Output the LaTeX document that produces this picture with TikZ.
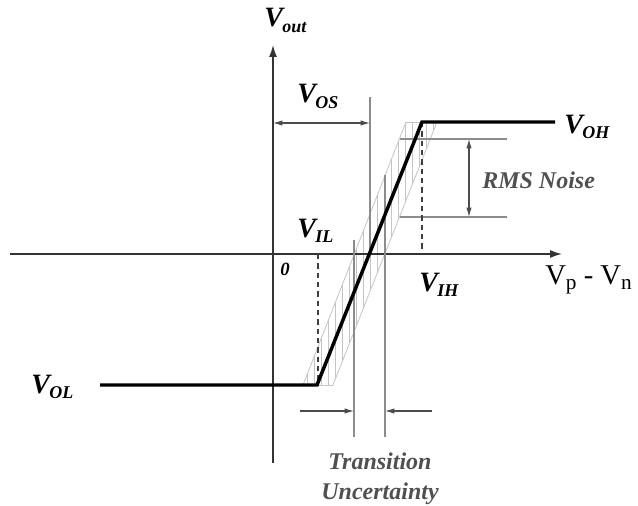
\documentclass[tikz,border=0pt]{standalone}
\usepackage{fontspec}
\setmainfont{Liberation Serif}
\usetikzlibrary{arrows.meta,positioning}
\definecolor{GuideGray}{HTML}{8C8C8C}
\definecolor{HatchGray}{HTML}{C4C4C4}
\definecolor{NoteGray}{HTML}{505050}
\newcommand{\Vsub}[1]{{\fontsize{21}{21}\selectfont\bfseries\itshape V\kern-0.5pt\raisebox{-0.45ex}{\fontsize{13.5}{13.5}\selectfont #1}}}
\tikzset{
  axis/.style={draw=black!80, line width=1.1pt, -{Latex[length=9pt,width=6pt]}},
  transfer/.style={draw=black, line width=2.6pt, line join=miter},
  guide/.style={draw=GuideGray, line width=0.8pt},
  hatch/.style={draw=HatchGray, line width=0.6pt},
  levelmark/.style={draw=black!75, line width=0.8pt, dashed, dash pattern=on 4pt off 3pt},
  dim/.style={draw=black!70, line width=0.8pt, {Latex[length=7pt,width=4pt]}-{Latex[length=7pt,width=4pt]}},
  pointer/.style={draw=black!70, line width=0.8pt, -{Latex[length=7pt,width=4pt]}},
  lbl/.style={inner sep=0pt, anchor=base west},
  note/.style={inner sep=0pt, font=\fontsize{18}{22}\selectfont\bfseries\itshape, text=NoteGray, align=center}
}
\begin{document}
\begin{tikzpicture}[x=0.75pt, y=-0.75pt]
\useasboundingbox (0,0) rectangle (638,506);

% key points of the transfer curve
\coordinate (lowstart) at (100,385);
\coordinate (knee1) at (317,385);
\coordinate (knee2) at (422,122);
\coordinate (highend) at (555,122);
\coordinate (cross) at (370,254);

% hatched uncertainty band
\begin{scope}
  \clip (406,122) -- (437,122) -- (333,385) -- (303,385) -- cycle;
  \foreach \x in {300,307,...,440}
    \draw[hatch] (\x,110) -- (\x,400);
\end{scope}
\draw[hatch] (406,122) -- (303,385);
\draw[hatch] (437,122) -- (333,385);
\draw[hatch] (303,385) -- (333,385);
\draw[hatch] (406,122) -- (437,122);

% axes
\coordinate (xstart) at (10,254);
\coordinate (xend) at (562,254);
\coordinate (ystart) at (273,463);
\coordinate (yend) at (273,45);
\draw[axis] (xstart) -- (xend);
\draw[axis] (ystart) -- (yend);

% offset and transition guides
\draw[guide] (370,97) -- (cross);
\draw[guide] (354,240) -- (354,437);
\draw[guide] (385,175) -- (385,437);
\draw[dim] (273,123) -- (370,123);
\draw[pointer] (300,411) -- (354,411);
\draw[pointer] (432,411) -- (385,411);

% rms noise
\draw[guide] (400,139) -- (507,139);
\draw[guide] (400,217) -- (507,217);
\draw[dim] (469,139) -- (469,217);

% input thresholds
\draw[levelmark] (318,254) -- (318,385);
\draw[levelmark] (knee2) -- (422,254);

% transfer curve
\draw[transfer] (lowstart) -- (knee1) -- (knee2) -- (highend);

% labels
\node[lbl] (vout) at (264,27) {\Vsub{out}};
\node[lbl] (vos) at (297,103) {\Vsub{OS}};
\node[lbl] (vil) at (297,237) {\Vsub{IL}};
\node[lbl, font=\fontsize{14}{14}\selectfont\bfseries\itshape] (zero) at (280,275) {0};
\node[lbl] (vih) at (419,291) {\Vsub{IH}};
\node[lbl] (voh) at (564,133) {\Vsub{OH}};
\node[lbl] (vol) at (31,393) {\Vsub{OL}};
\node[lbl] (vpvn) at (545,284) {\fontsize{21.5}{21.5}\selectfont V\raisebox{-0.45ex}{\fontsize{16}{16}\selectfont p} - V\raisebox{-0.45ex}{\fontsize{16}{16}\selectfont n}};
\node[note, anchor=west] (rms) at (482,180) {RMS Noise};
\node[note, anchor=north] (trans) at (380,453) {Transition\\Uncertainty};

\end{tikzpicture}
\end{document}
